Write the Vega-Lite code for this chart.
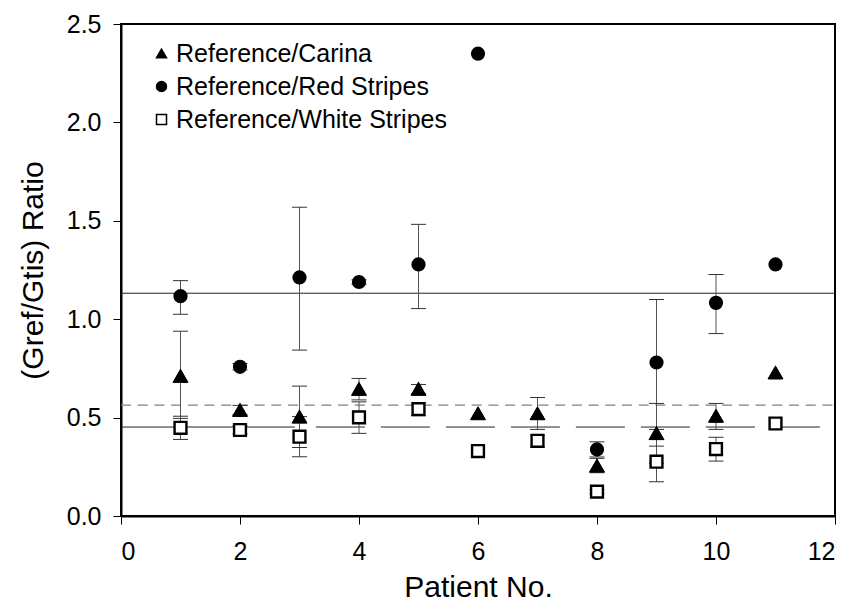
{
  "$schema": "https://vega.github.io/schema/vega-lite/v6.json",
  "width": 714,
  "height": 492,
  "autosize": {"type": "none"},
  "padding": {"left": 121, "top": 24, "right": 29, "bottom": 95},
  "background": "white",
  "config": {
    "font": "Liberation Sans",
    "view": {"stroke": "black", "strokeWidth": 2},
    "axis": {
      "grid": false,
      "domainColor": "black",
      "domainWidth": 2,
      "tickColor": "black",
      "tickWidth": 1,
      "tickSize": 8,
      "labelFont": "Liberation Sans",
      "labelFontSize": 25,
      "labelColor": "black",
      "titleFont": "Liberation Sans",
      "titleFontSize": 30,
      "titleFontWeight": "normal",
      "titleColor": "black"
    }
  },
  "datasets": {
    "lines": [
      {"kind": "solid", "x1": 0, "x2": 12, "y": 1.132},
      {"kind": "solid", "x1": 0, "x2": 2.92, "y": 0.452},
      {"kind": "grey", "x1": 0, "x2": 12, "y": 0.563},
      {"kind": "long", "x1": 3.275, "x2": 11.78, "y": 0.452}
    ],
    "points": [
      {"patient": 1, "series": "Reference/Carina", "value": 0.711, "lo": 0.496, "hi": 0.939},
      {"patient": 1, "series": "Reference/Red Stripes", "value": 1.117, "lo": 1.025, "hi": 1.196},
      {"patient": 1, "series": "Reference/White Stripes", "value": 0.448, "lo": 0.389, "hi": 0.507},
      {"patient": 2, "series": "Reference/Carina", "value": 0.538, "lo": 0.515, "hi": 0.562},
      {"patient": 2, "series": "Reference/Red Stripes", "value": 0.758, "lo": 0.742, "hi": 0.775},
      {"patient": 2, "series": "Reference/White Stripes", "value": 0.437, "lo": 0.417, "hi": 0.458},
      {"patient": 3, "series": "Reference/Carina", "value": 0.504, "lo": 0.348, "hi": 0.66},
      {"patient": 3, "series": "Reference/Red Stripes", "value": 1.212, "lo": 0.843, "hi": 1.569},
      {"patient": 3, "series": "Reference/White Stripes", "value": 0.403, "lo": 0.301, "hi": 0.505},
      {"patient": 4, "series": "Reference/Carina", "value": 0.645, "lo": 0.59, "hi": 0.699},
      {"patient": 4, "series": "Reference/Red Stripes", "value": 1.189, "lo": 1.178, "hi": 1.2},
      {"patient": 4, "series": "Reference/White Stripes", "value": 0.501, "lo": 0.42, "hi": 0.58},
      {"patient": 5, "series": "Reference/Carina", "value": 0.645, "lo": 0.622, "hi": 0.668},
      {"patient": 5, "series": "Reference/Red Stripes", "value": 1.278, "lo": 1.054, "hi": 1.482},
      {"patient": 5, "series": "Reference/White Stripes", "value": 0.543, "lo": 0.51, "hi": 0.575},
      {"patient": 6, "series": "Reference/Carina", "value": 0.521},
      {"patient": 6, "series": "Reference/Red Stripes", "value": 2.349},
      {"patient": 6, "series": "Reference/White Stripes", "value": 0.33},
      {"patient": 7, "series": "Reference/Carina", "value": 0.521, "lo": 0.44, "hi": 0.602},
      {"patient": 7, "series": "Reference/White Stripes", "value": 0.382, "lo": 0.35, "hi": 0.41},
      {"patient": 8, "series": "Reference/Carina", "value": 0.255, "lo": 0.22, "hi": 0.293},
      {"patient": 8, "series": "Reference/Red Stripes", "value": 0.338, "lo": 0.3, "hi": 0.377},
      {"patient": 8, "series": "Reference/White Stripes", "value": 0.124, "lo": 0.115, "hi": 0.133},
      {"patient": 9, "series": "Reference/Carina", "value": 0.42, "lo": 0.268, "hi": 0.572},
      {"patient": 9, "series": "Reference/Red Stripes", "value": 0.78, "lo": 0.44, "hi": 1.1},
      {"patient": 9, "series": "Reference/White Stripes", "value": 0.276, "lo": 0.174, "hi": 0.355},
      {"patient": 10, "series": "Reference/Carina", "value": 0.508, "lo": 0.44, "hi": 0.572},
      {"patient": 10, "series": "Reference/Red Stripes", "value": 1.083, "lo": 0.927, "hi": 1.227},
      {"patient": 10, "series": "Reference/White Stripes", "value": 0.34, "lo": 0.279, "hi": 0.4},
      {"patient": 11, "series": "Reference/Carina", "value": 0.728},
      {"patient": 11, "series": "Reference/Red Stripes", "value": 1.278},
      {"patient": 11, "series": "Reference/White Stripes", "value": 0.47}
    ]
  },
  "resolve": {"scale": {"x": "shared", "y": "shared"}},
  "layer": [
    {
      "data": {"name": "lines"},
      "transform": [{"filter": "datum.kind === 'solid'"}],
      "mark": {"type": "rule", "color": "#222222", "strokeWidth": 1},
      "encoding": {
        "x": {"field": "x1", "type": "quantitative", "scale": {"domain": [0, 12], "nice": false},
          "axis": {"values": [0, 2, 4, 6, 8, 10, 12], "format": "d", "title": "Patient No.", "labelPadding": 15, "titlePadding": 8}},
        "x2": {"field": "x2"},
        "y": {"field": "y", "type": "quantitative", "scale": {"domain": [0, 2.5], "nice": false},
          "axis": {"values": [0, 0.5, 1, 1.5, 2, 2.5], "format": ".1f", "title": "(Gref/Gtis) Ratio", "labelPadding": 12, "titlePadding": 18}}
      }
    },
    {
      "data": {"name": "lines"},
      "transform": [{"filter": "datum.kind === 'grey'"}],
      "mark": {"type": "rule", "color": "#808080", "strokeWidth": 1.3, "strokeDash": [10, 6.7]},
      "encoding": {
        "x": {"field": "x1", "type": "quantitative"},
        "x2": {"field": "x2"},
        "y": {"field": "y", "type": "quantitative"}
      }
    },
    {
      "data": {"name": "lines"},
      "transform": [{"filter": "datum.kind === 'long'"}],
      "mark": {"type": "rule", "color": "#222222", "strokeWidth": 1, "strokeDash": [49, 16]},
      "encoding": {
        "x": {"field": "x1", "type": "quantitative"},
        "x2": {"field": "x2"},
        "y": {"field": "y", "type": "quantitative"}
      }
    },
    {
      "data": {"name": "points"},
      "transform": [{"filter": "isValid(datum.lo)"}],
      "mark": {"type": "rule", "color": "#555555", "strokeWidth": 1},
      "encoding": {
        "x": {"field": "patient", "type": "quantitative"},
        "y": {"field": "lo", "type": "quantitative"},
        "y2": {"field": "hi"}
      }
    },
    {
      "data": {"name": "points"},
      "transform": [{"filter": "isValid(datum.lo)"}],
      "mark": {"type": "tick", "orient": "horizontal", "size": 15, "thickness": 1, "color": "#333333", "opacity": 1},
      "encoding": {
        "x": {"field": "patient", "type": "quantitative"},
        "y": {"field": "lo", "type": "quantitative"}
      }
    },
    {
      "data": {"name": "points"},
      "transform": [{"filter": "isValid(datum.hi)"}],
      "mark": {"type": "tick", "orient": "horizontal", "size": 15, "thickness": 1, "color": "#333333", "opacity": 1},
      "encoding": {
        "x": {"field": "patient", "type": "quantitative"},
        "y": {"field": "hi", "type": "quantitative"}
      }
    },
    {
      "data": {"name": "points"},
      "mark": {"type": "point", "filled": true, "stroke": "black", "strokeWidth": 2.4, "opacity": 1, "size": 140},
      "encoding": {
        "x": {"field": "patient", "type": "quantitative"},
        "y": {"field": "value", "type": "quantitative"},
        "shape": {"field": "series", "type": "nominal",
          "scale": {"domain": ["Reference/Carina", "Reference/Red Stripes", "Reference/White Stripes"], "range": ["triangle-up", "circle", "square"]},
          "legend": {"title": null, "orient": "none", "legendX": 28, "legendY": 17, "labelFontSize": 25, "labelFont": "Liberation Sans", "labelColor": "black", "labelLimit": 400, "symbolSize": 100, "rowPadding": 7, "labelOffset": 2,
            "encode": {"symbols": {"update": {"stroke": {"value": "black"}, "strokeWidth": {"value": 2}}}}}},
        "fill": {"field": "series", "type": "nominal",
          "scale": {"domain": ["Reference/Carina", "Reference/Red Stripes", "Reference/White Stripes"], "range": ["black", "black", "white"]}}
      }
    },
    {
      "data": {"name": "points"},
      "transform": [{"filter": "datum.series === 'Reference/Carina'"}],
      "mark": {"type": "point", "shape": "triangle-up", "filled": true, "fill": "black", "stroke": "black", "strokeWidth": 1, "opacity": 1, "size": 210},
      "encoding": {
        "x": {"field": "patient", "type": "quantitative"},
        "y": {"field": "value", "type": "quantitative"}
      }
    }
  ]
}
